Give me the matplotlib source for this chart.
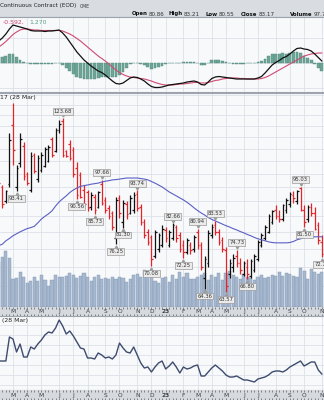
import numpy as np
import pandas as pd
import matplotlib
matplotlib.use('Agg')
import matplotlib.pyplot as plt
import matplotlib.dates as mdates
from matplotlib.transforms import offset_copy

# weekly bars, dated by the Monday of each week
dates = pd.date_range('2022-02-07', periods=92, freq='7D')

high = [100.0, 95.7, 94.0, 116.8, 131.0, 103.3, 116.8, 112.8, 100.6, 108.6,
        108.1, 107.4, 108.6, 110.7, 111.5, 115.0, 118.9, 122.7, 123.68, 109.4,
        113.7, 110.7, 104.5, 100.6, 95.7, 94.0, 93.0, 92.5, 93.5, 97.66,
        91.5, 88.5, 86.5, 91.5, 92.0, 90.5, 90.0, 92.0, 93.0, 93.74,
        89.0, 84.0, 81.0, 79.0, 80.5, 79.5, 82.0, 81.5, 80.5, 82.66,
        82.0, 80.0, 77.5, 78.0, 77.0, 79.0, 80.94, 77.0, 73.0, 80.5,
        82.5, 83.53, 81.0, 78.5, 75.5, 72.0, 73.5, 74.73, 72.5, 71.5,
        72.0, 72.0, 73.5, 77.5, 79.5, 82.0, 85.5, 87.0, 88.5, 87.0,
        89.0, 91.0, 93.0, 93.5, 94.0, 95.03, 88.5, 88.5, 89.5, 88.0,
        83.0, 79.0]
low = [95.5, 87.7, 89.5, 95.0, 103.3, 93.41, 102.5, 97.6, 95.7, 93.2,
       100.3, 96.8, 100.6, 102.5, 104.5, 106.5, 108.6, 116.8, 106.5, 106.5,
       105.3, 98.7, 90.56, 91.0, 88.0, 86.5, 87.0, 85.73, 87.5, 88.5,
       86.0, 84.0, 80.5, 76.25, 84.5, 81.30, 84.0, 85.5, 86.0, 86.5,
       82.0, 78.0, 76.0, 70.08, 72.5, 74.0, 75.5, 77.0, 75.5, 77.5,
       77.0, 74.0, 72.25, 73.5, 73.5, 74.0, 75.0, 69.0, 64.36, 70.0,
       78.0, 79.0, 76.0, 74.0, 63.57, 67.0, 68.5, 70.0, 68.0, 67.5,
       66.80, 67.0, 68.5, 71.5, 75.5, 77.5, 79.5, 82.5, 84.0, 83.0,
       83.5, 86.0, 88.0, 89.5, 89.0, 86.5, 81.50, 83.0, 85.0, 80.5,
       76.5, 72.7]
opn = [99, 95, 90, 96, 120.4, 95, 104, 111, 100, 94,
       107.5, 98, 101.5, 103, 105, 114, 109, 118, 122.5, 109,
       112, 109.5, 102, 99.5, 94, 93, 88, 91.5, 88, 96,
       90.5, 87.5, 86, 78, 91, 83, 89, 86, 87, 92.5,
       88, 83, 80, 78.5, 73, 75, 76, 80.5, 76, 78,
       81.5, 79, 76, 74, 76, 75, 80, 76, 67, 71,
       79, 82, 80, 77.5, 74.5, 68, 70, 73, 71, 68,
       70, 67.5, 69, 72, 76, 78, 80, 83, 87, 85,
       84, 87, 89, 92, 90, 94.5, 87, 84, 88, 86,
       82, 77]
close = [96.5, 89, 93.5, 113.7, 109.4, 102, 114, 99, 96.5, 107,
         101, 106, 107.5, 110, 110.5, 107.5, 118, 121, 107.5, 107,
         106, 100, 92, 91.5, 89, 87.5, 92, 87, 93, 89.5,
         87, 85, 81.5, 90.5, 86, 89.5, 85.5, 91, 92, 87.5,
         83, 79, 77, 72, 80, 79, 81, 78, 80, 82,
         78, 75, 74, 77.5, 74.5, 78.5, 76, 70, 72, 79.5,
         81.5, 80, 77, 75, 65, 71, 72.5, 71, 69, 71,
         68, 71.5, 73, 77, 79, 81.5, 85, 86.5, 85, 84,
         88.5, 90.5, 92.5, 91, 93.5, 87, 83, 88, 86, 81,
         77.5, 73.5]
volume = [135, 150, 168, 147, 84, 87, 105, 90, 72, 78,
          90, 78, 96, 81, 63, 81, 96, 90, 90, 93,
          102, 96, 87, 93, 102, 90, 78, 90, 96, 84,
          87, 84, 90, 84, 90, 87, 75, 84, 96, 99,
          90, 111, 96, 90, 78, 72, 87, 90, 75, 96,
          84, 105, 90, 102, 84, 84, 90, 96, 102, 81,
          96, 90, 102, 81, 102, 108, 96, 90, 84, 99,
          90, 87, 81, 90, 96, 87, 90, 96, 93, 105,
          93, 102, 99, 93, 90, 117, 108, 84, 114, 105,
          99, 105]
sma = [75.9, 76.3, 77.3, 78.0, 78.8, 79.4, 80.0, 80.5, 81.0, 81.3,
       81.7, 82.8, 84.0, 84.9, 85.7, 86.7, 88.3, 89.7, 90.8, 91.8,
       93.0, 93.9, 94.6, 95.2, 95.5, 95.7, 96.0, 96.2, 96.4, 96.8,
       97.1, 97.3, 97.6, 97.7, 97.9, 98.1, 98.3, 98.3, 98.3, 98.3,
       98.1, 97.9, 97.6, 97.0, 96.4, 95.7, 95.0, 94.1, 93.2, 92.5,
       91.8, 91.1, 90.4, 89.6, 88.7, 87.7, 86.8, 86.0, 85.3, 84.5,
       83.9, 83.4, 82.9, 82.4, 81.9, 81.5, 81.0, 80.6, 80.1, 79.7,
       79.2, 78.8, 78.3, 77.9, 77.6, 77.3, 77.0, 76.8, 76.7, 76.7,
       76.7, 76.7, 76.8, 77.1, 77.6, 77.9, 78.2, 78.3, 78.5, 78.5,
       78.5, 78.5]
macd = [4.4, 5.0, 5.8, 6.8, 7.6, 7.4, 7.2, 7.0, 6.8, 6.5,
        6.4, 6.4, 6.4, 6.3, 6.4, 6.4, 6.5, 6.6, 6.0, 5.2,
        4.2, 3.2, 2.2, 1.4, 0.6, 0.0, -0.6, -1.1, -1.6, -1.9,
        -2.4, -3.0, -3.6, -4.1, -4.2, -4.0, -3.5, -3.0, -2.8, -2.9,
        -3.2, -3.6, -4.2, -4.7, -4.9, -4.9, -4.8, -4.6, -4.4, -4.3,
        -4.2, -4.1, -4.0, -3.8, -3.7, -3.6, -3.8, -4.3, -4.4, -3.8,
        -3.1, -2.8, -2.7, -2.8, -2.9, -3.0, -3.1, -3.2, -3.2, -3.2,
        -3.2, -3.2, -3.2, -3.0, -2.7, -2.0, -1.2, -0.4, 0.1, 0.5,
        1.0, 1.3, 1.8, 2.4, 2.9, 3.0, 2.8, 2.7, 2.4, 1.8,
        1.1, 0.4]
signal = [3.2, 3.7, 4.3, 5.0, 5.7, 6.2, 6.6, 6.8, 6.8, 6.7,
          6.6, 6.6, 6.5, 6.5, 6.5, 6.5, 6.5, 6.5, 6.4, 6.1,
          5.8, 5.4, 4.9, 4.4, 3.8, 3.2, 2.6, 2.0, 1.4, 0.9,
          0.4, -0.2, -0.8, -1.4, -1.9, -2.3, -2.6, -2.8, -2.9, -3.0,
          -3.1, -3.2, -3.4, -3.6, -3.9, -4.1, -4.3, -4.4, -4.4, -4.4,
          -4.3, -4.2, -4.2, -4.1, -4.0, -3.9, -3.9, -4.0, -4.0, -3.9,
          -3.7, -3.5, -3.4, -3.2, -3.1, -3.0, -3.0, -3.0, -3.1, -3.1,
          -3.2, -3.2, -3.2, -3.2, -3.1, -2.9, -2.6, -2.2, -1.8, -1.4,
          -1.0, -0.6, -0.2, 0.2, 0.6, 1.0, 1.4, 1.6, 1.8, 1.9,
          2.0, 2.0]
lower = [148, 148, 148, 196, 192, 166, 182, 156, 156, 176,
         172, 182, 190, 200, 206, 204, 214, 230, 218, 202,
         208, 198, 186, 174, 172, 154, 154, 152, 164, 160,
         154, 156, 152, 160, 184, 174, 166, 164, 176, 160,
         144, 134, 136, 126, 136, 144, 148, 132, 138, 146,
         136, 124, 136, 132, 134, 138, 140, 118, 118, 126,
         134, 140, 134, 128, 120, 116, 116, 118, 114, 110,
         110, 108, 106, 112, 114, 116, 120, 126, 128, 128,
         126, 130, 136, 140, 144, 148, 138, 142, 146, 146,
         130, 122]

peaks = [18, 29, 39, 49, 56, 61, 67, 85]
troughs = [5, 22, 27, 33, 35, 43, 52, 58, 64, 70, 86, 91]

quote_labels = ['Open', 'High', 'Low', 'Close', 'Volume']
quote_values = ['80.86', '83.21', '80.55', '83.17', '97.7K']

W, H = 324, 400
PANEL = '#f8f9fb'
GRID = '#dde1e8'
SPINE = '#9ea4ad'
RED = '#e3242b'
FS = 4.4

fig = plt.figure(figsize=(W / 100, H / 100), dpi=100)
fig.patch.set_facecolor(PANEL)


def rect(top, bottom):
    return [0, 1 - bottom / H, 1, (bottom - top) / H]


dn = mdates.date2num(dates)
x_left = mdates.date2num(pd.Timestamp('2022-03-07')) - 25.6
x_right = x_left + W * 7 / 3.55
day = 7 / 3.55  # days per pixel

month_idx = [i for i in range(1, len(dates)) if dates[i].month != dates[i - 1].month]
tick_x = dn[month_idx]
tick_lab = ['23' if dates[i].month == 1 else dates[i].strftime('%b')[0] for i in month_idx]


def panel(ax):
    ax.set_xlim(x_left, x_right)
    ax.set_facecolor(PANEL)
    ax.set_xticks([])
    ax.set_yticks([])
    for side in ['left', 'right']:
        ax.spines[side].set_visible(False)
    for side in ['top', 'bottom']:
        ax.spines[side].set_color(SPINE)
        ax.spines[side].set_linewidth(0.8)
    for x in tick_x:
        ax.axvline(x, color=GRID, lw=0.6, zorder=0)


def axis_band(top, bottom):
    ax = fig.add_axes(rect(top, bottom))
    ax.set_xlim(x_left, x_right)
    ax.set_ylim(0, 1)
    ax.set_facecolor('#d6dadf')
    ax.set_xticks([])
    ax.set_yticks([])
    for s in ax.spines.values():
        s.set_visible(False)
    ax.vlines(dn, 0.0, 0.2, color='#5a5f66', lw=0.5)
    ax.vlines(dn, 0.8, 1.0, color='#5a5f66', lw=0.5)
    for x, lab in zip(tick_x, tick_lab):
        ax.text(x, 0.48, lab, ha='center', va='center', fontsize=FS - 0.2, color='#3a3f46',
                fontweight='bold' if lab == '23' else 'normal')


# header strip
head = fig.add_axes(rect(0, 17))
head.set_xlim(0, W)
head.set_ylim(17, 0)
head.set_facecolor('#d9dde2')
head.set_xticks([])
head.set_yticks([])
for s in head.spines.values():
    s.set_visible(False)
head.axhline(16.6, color='#9aa1a9', lw=0.8)
head.text(0, 6, 'Continuous Contract (EOD)', fontsize=4.1, va='center', color='#222')
head.text(80, 6.3, 'CME', fontsize=3.3, va='center', color='#333')
for lab, val, x in zip(quote_labels, quote_values, [149, 184, 219, 259, 314]):
    head.text(x - 1.5, 14, lab, fontsize=3.9, va='center', ha='right', color='#111', fontweight='bold')
    head.text(x, 14, val, fontsize=4.1, va='center', ha='left', color='#333')

# MACD panel
ax_m = fig.add_axes(rect(17, 92))
panel(ax_m)
ax_m.set_ylim(-5.8, 9.2)
for lvl in [-5, 0, 5]:
    ax_m.axhline(lvl, color=GRID, lw=0.6, zorder=0)
hist = np.array(macd) - np.array(signal)
ax_m.bar(dn, hist, width=5.5, color='#6ea596', edgecolor='#4f8a7a', lw=0.3, zorder=2)
ax_m.plot(dn, signal, color='#cf4a70', lw=0.8, zorder=3)
ax_m.plot(dn, macd, color='#111', lw=0.9, zorder=4)
fig.text(3 / W, 1 - 22 / H, '-0.592,', fontsize=FS, color='#d0436c', va='center')
fig.text(29 / W, 1 - 22 / H, '1.270', fontsize=FS, color='#5a9e89', va='center')

# price panel: volume underneath, bars on top
ax_v = fig.add_axes(rect(93, 307))
panel(ax_v)
ax_v.set_ylim(0, 642)
ax_p = fig.add_axes(rect(93, 307), sharex=ax_v)
ax_p.set_yscale('log')
ax_p.set_ylim(60.0, 136.1)
ax_p.set_xlim(x_left, x_right)
ax_p.patch.set_visible(False)
ax_p.set_xticks([])
ax_p.set_yticks([], minor=False)
ax_p.set_yticks([], minor=True)
for s in ax_p.spines.values():
    s.set_visible(False)

for lvl in range(65, 140, 5):
    ax_v.plot([x_left, x_right], [lvl, lvl], transform=ax_p.transData, color=GRID, lw=0.6, zorder=0)
ax_v.bar(dn, volume, width=6.2, color='#a5b8cf', edgecolor='#8497b2', lw=0.3, zorder=2)

colors = [RED if c < o else '#111' for o, c in zip(opn, close)]
tick = 1.6 * day
ax_p.vlines(dn, low, high, colors=colors, lw=0.9, zorder=3)
ax_p.hlines(opn, dn - tick, dn, colors=colors, lw=0.9, zorder=3)
ax_p.hlines(close, dn, dn + tick, colors=colors, lw=0.9, zorder=3)
ax_p.plot(dn, sma, color='#5b5fc4', lw=0.8, zorder=4)

lab_box = dict(boxstyle='square,pad=0.18', fc='#ebebeb', ec='#9a9a9a', lw=0.5)
for i in peaks:
    ax_p.annotate(f'{high[i]:.2f}', (dn[i], high[i]), xytext=(0, 5), textcoords='offset points',
                  ha='center', va='center', fontsize=3.8, color='#333', bbox=lab_box, zorder=6)
    ax_p.plot(dn[i], high[i], marker='v', ms=2.2, color='#9a9a9a',
              transform=offset_copy(ax_p.transData, fig=fig, x=0, y=2.0, units='points'), zorder=5)
for i in troughs:
    ax_p.annotate(f'{low[i]:.2f}', (dn[i], low[i]), xytext=(0, -5.3), textcoords='offset points',
                  ha='center', va='center', fontsize=3.8, color='#333', bbox=lab_box, zorder=6)
    ax_p.plot(dn[i], low[i], marker='^', ms=2.2, color='#9a9a9a',
              transform=offset_copy(ax_p.transData, fig=fig, x=0, y=-2.0, units='points'), zorder=5)
fig.text(0, 1 - 97.5 / H, '17 (28 Mar)', fontsize=FS, color='#222', va='center')

axis_band(307, 316)

# lower indicator panel
ax_l = fig.add_axes(rect(316, 390))
panel(ax_l)
ax_l.set_ylim(90, 238)
for lvl in range(100, 240, 20):
    ax_l.axhline(lvl, color=GRID, lw=0.6, zorder=0)
ax_l.plot(dn, lower, color='#3d4b6e', lw=1.0, zorder=3)
fig.text(2 / W, 1 - 320.5 / H, '(28 Mar)', fontsize=FS, color='#222', va='center')

axis_band(390, 400)

fig.savefig('out.png', dpi=100, facecolor=fig.get_facecolor())
